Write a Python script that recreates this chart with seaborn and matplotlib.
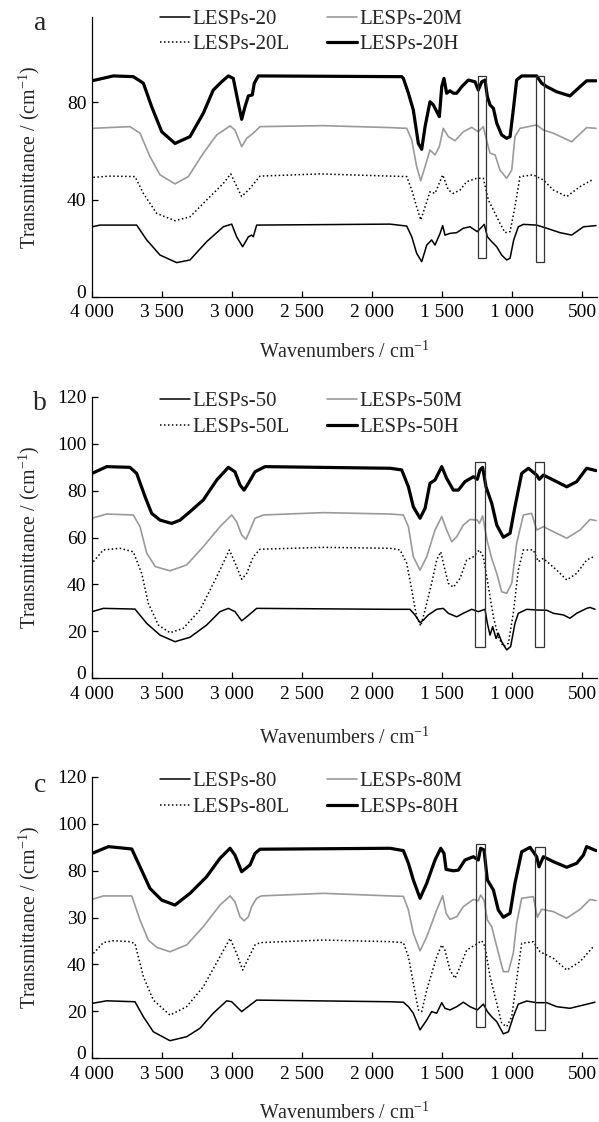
import matplotlib
matplotlib.use("Agg")
import matplotlib.pyplot as plt
import matplotlib.transforms as mtransforms
import seaborn as sns
import pandas as pd
from matplotlib.patches import Rectangle
from matplotlib.ticker import FuncFormatter, FixedLocator

# ---------------- data (wavenumber cm-1, transmittance) ----------------
a_20 = [(4000,28.8),(3943,29.5),(3681,29.5),(3609,23.4),(3514,17.2),(3395,14.1),(3300,15.2),(3181,22.7),(3062,28.8),(3002,29.9),(2967,24.7),(2924,20.6),(2883,24.7),(2860,25.4),(2848,24.7),(2824,29.5),(1871,29.9),(1752,29.1),(1716,24.7),(1681,17.9),(1645,14.5),(1609,21.3),(1574,23.4),(1550,21.3),(1514,26.1),(1495,29.3),(1479,25.4),(1443,26.1),(1395,26.4),(1348,28.2),(1300,28.8),(1248,26.8),(1198,29.8),(1176,24.7),(1145,22.7),(1109,20.6),(1074,17.2),(1038,15.2),(1014,15.9),(988,23.4),(955,28.8),(919,29.8),(824,29.5),(752,28.2),(657,26.4),(574,25.4),(490,28.8),(400,29.3)]
a_20L = [(3990,49.1),(3871,49.6),(3693,49.4),(3633,42.5),(3538,34.3),(3407,31.3),(3300,32.9),(3181,39.8),(3062,46.6),(3009,50.5),(2931,41.2),(2871,44.6),(2800,49.6),(2371,50.5),(1871,49.6),(1752,49.4),(1716,43.9),(1681,37.0),(1652,31.6),(1621,37.0),(1586,43.2),(1550,42.5),(1495,50.1),(1455,43.9),(1419,42.5),(1371,43.9),(1324,47.3),(1252,48.7),(1205,48.7),(1169,39.8),(1133,35.7),(1086,30.2),(1050,26.4),(1014,26.8),(979,37.0),(943,49.4),(848,50.1),(776,48.0),(705,43.9),(609,41.2),(514,45.3),(419,48.3)]
a_20M = [(4000,69.2),(3729,69.9),(3657,67.2),(3586,57.6),(3514,50.1),(3407,46.4),(3312,49.4),(3205,59.0),(3109,66.5),(3014,70.2),(2979,68.5),(2931,61.7),(2895,65.1),(2848,67.2),(2800,69.9),(2348,70.3),(1871,69.5),(1752,69.2),(1716,64.4),(1681,53.5),(1652,47.7),(1621,53.5),(1586,60.3),(1550,58.3),(1519,61.7),(1491,69.2),(1455,65.8),(1407,64.1),(1348,67.8),(1288,69.6),(1241,67.8),(1205,69.9),(1176,63.0),(1157,59.0),(1121,58.3),(1086,52.1),(1038,48.7),(1002,52.1),(979,65.8),(943,69.2),(824,70.6),(776,68.5),(705,67.2),(574,63.7),(467,69.5),(400,69.2)]
a_20H = [(4000,88.7),(3848,90.7),(3705,90.4),(3633,87.7),(3574,78.1),(3502,67.8),(3407,63.0),(3300,65.8),(3205,75.4),(3134,84.9),(3074,88.3),(3026,90.7),(2991,89.7),(2955,79.5),(2931,72.9),(2907,78.1),(2883,82.5),(2855,82.9),(2841,87.7),(2812,90.7),(1788,90.4),(1776,89.7),(1740,83.6),(1705,76.7),(1669,63.0),(1645,60.6),(1621,69.9),(1586,80.1),(1562,78.8),(1519,74.0),(1502,86.3),(1486,89.7),(1467,83.6),(1443,84.6),(1419,83.6),(1395,83.6),(1359,86.3),(1312,89.0),(1264,88.3),(1241,84.9),(1216,88.3),(1193,89.0),(1176,82.2),(1157,78.8),(1133,77.4),(1109,71.3),(1074,66.5),(1038,65.1),(1014,65.8),(991,76.7),(967,89.0),(931,90.7),(824,90.7),(788,87.7),(752,86.3),(681,84.2),(586,82.5),(514,86.3),(467,88.7),(400,88.7)]

b_50 = [(4000,28.4),(3919,29.8),(3693,29.5),(3609,23.4),(3514,18.4),(3407,15.6),(3300,17.5),(3181,22.7),(3086,28.4),(3026,29.8),(2979,28.4),(2931,24.5),(2895,26.2),(2824,29.8),(1871,29.4),(1729,29.4),(1693,27.0),(1657,23.7),(1633,24.8),(1598,27.0),(1538,29.4),(1491,29.8),(1455,27.7),(1395,26.2),(1348,27.7),(1288,29.4),(1241,28.4),(1193,29.4),(1176,23.4),(1157,18.4),(1138,22.0),(1114,17.0),(1098,19.2),(1074,15.6),(1038,12.1),(1010,13.5),(979,23.4),(955,27.7),(895,29.4),(824,29.1),(752,29.0),(705,27.7),(633,27.0),(586,25.6),(538,27.7),(467,29.8),(443,30.2),(407,29.4)]
b_50L = [(3990,49.7),(3919,54.7),(3800,55.4),(3705,53.9),(3645,44.7),(3598,32.0),(3526,22.7),(3443,19.4),(3348,21.3),(3229,29.1),(3109,43.3),(3019,54.7),(2967,47.6),(2931,42.2),(2895,44.7),(2848,51.8),(2800,55.0),(2348,55.8),(1871,55.4),(1800,54.7),(1752,49.0),(1716,37.6),(1681,26.2),(1652,22.3),(1621,29.1),(1574,40.5),(1538,50.4),(1509,53.9),(1479,46.1),(1455,40.5),(1419,38.8),(1371,42.6),(1324,50.4),(1276,51.8),(1233,54.7),(1205,51.8),(1181,43.3),(1157,34.8),(1133,26.2),(1098,17.7),(1062,13.5),(1026,14.9),(991,27.7),(955,46.1),(919,54.7),(848,54.7),(812,49.7),(776,51.1),(681,46.1),(609,41.9),(538,44.7),(467,50.4),(407,52.1)]
b_50M = [(4000,68.2),(3895,70.0),(3705,69.6),(3657,64.6),(3609,53.3),(3548,47.6),(3443,45.8),(3324,48.3),(3205,56.1),(3086,64.6),(3002,69.6),(2967,66.7),(2931,61.1),(2900,59.2),(2871,63.2),(2836,68.2),(2776,69.6),(2348,70.6),(1871,70.0),(1776,69.6),(1740,64.6),(1705,51.8),(1657,46.1),(1609,51.8),(1550,63.2),(1502,68.9),(1467,63.2),(1431,58.2),(1395,60.3),(1348,65.3),(1300,67.7),(1248,67.4),(1233,66.0),(1210,69.2),(1176,58.2),(1145,51.1),(1109,44.7),(1074,36.9),(1038,36.2),(1002,40.5),(967,57.5),(919,69.6),(860,70.3),(824,63.2),(776,64.6),(705,62.5),(609,59.7),(514,63.2),(443,67.7),(400,67.2)]
b_50H = [(4000,87.3),(3895,90.2),(3729,89.9),(3681,87.3),(3621,77.4),(3574,70.3),(3514,67.4),(3431,66.0),(3371,67.4),(3300,71.0),(3205,76.0),(3109,84.5),(3026,89.9),(2979,88.0),(2943,82.4),(2914,80.2),(2883,83.1),(2836,88.0),(2764,90.2),(1871,89.5),(1788,88.8),(1740,81.6),(1705,73.1),(1657,68.2),(1621,72.4),(1586,83.1),(1550,84.5),(1502,90.2),(1467,85.2),(1419,80.2),(1383,80.2),(1336,83.8),(1276,85.9),(1248,84.8),(1229,88.8),(1210,89.9),(1186,81.6),(1145,74.6),(1109,65.3),(1062,60.1),(1014,61.8),(979,73.1),(931,87.3),(883,89.5),(824,86.6),(805,84.8),(776,86.6),(705,84.5),(609,81.6),(538,83.8),(467,89.5),(400,88.5)]

c_80 = [(4000,23.4),(3895,24.5),(3693,24.1),(3633,17.7),(3562,11.3),(3443,7.5),(3324,9.2),(3229,12.8),(3134,19.2),(3038,24.5),(3002,24.1),(2931,19.9),(2824,24.8),(1871,24.1),(1776,23.9),(1740,22.0),(1705,19.2),(1657,12.1),(1609,16.3),(1574,19.9),(1538,19.2),(1502,23.7),(1479,21.3),(1443,20.6),(1395,22.0),(1348,23.9),(1300,22.0),(1248,20.6),(1205,23.1),(1176,19.9),(1145,17.7),(1109,15.6),(1062,10.4),(1026,11.3),(991,17.7),(955,23.1),(895,24.4),(824,23.7),(752,23.7),(681,22.0),(586,21.3),(490,22.7),(407,23.9)]
c_80L = [(3990,44.7),(3919,49.3),(3848,50.1),(3729,49.7),(3693,48.9),(3633,34.8),(3562,24.8),(3443,18.4),(3324,22.0),(3205,30.5),(3086,43.3),(3014,51.1),(2967,44.7),(2924,37.6),(2883,42.6),(2836,48.3),(2800,49.3),(2348,50.4),(1871,49.7),(1776,49.3),(1740,43.3),(1705,32.0),(1669,20.6),(1645,19.9),(1609,29.1),(1538,43.3),(1502,48.3),(1479,46.1),(1443,37.6),(1407,34.1),(1371,39.0),(1324,46.1),(1264,48.3),(1216,50.1),(1193,47.6),(1157,34.8),(1109,23.4),(1074,14.9),(1038,13.5),(1002,17.7),(967,33.4),(931,49.0),(848,49.7),(800,45.4),(705,42.6),(609,37.6),(514,41.2),(419,47.6)]
c_80M = [(4000,67.7),(3919,69.2),(3716,69.2),(3657,58.9),(3598,50.4),(3538,47.3),(3443,45.4),(3324,48.3),(3205,56.1),(3086,65.3),(3014,69.2),(2979,66.7),(2943,60.3),(2914,58.6),(2883,60.3),(2860,64.6),(2824,68.2),(2790,69.2),(2348,70.3),(1871,69.2),(1776,69.0),(1740,63.2),(1705,53.3),(1657,45.8),(1609,51.8),(1538,63.2),(1495,69.3),(1471,61.8),(1443,59.2),(1395,60.3),(1348,64.6),(1276,67.7),(1241,67.1),(1224,69.6),(1200,67.4),(1176,58.9),(1145,56.1),(1109,47.6),(1062,36.9),(1026,36.9),(991,44.7),(967,57.5),(931,68.2),(848,68.9),(819,60.1),(788,63.5),(705,62.5),(609,59.7),(514,63.5),(443,67.7),(400,67.2)]
c_80H = [(4000,87.3),(3883,90.2),(3716,89.2),(3657,81.6),(3586,72.4),(3502,67.4),(3407,65.3),(3300,70.3),(3181,77.4),(3086,85.2),(3014,89.5),(2979,86.6),(2931,79.5),(2871,82.4),(2836,87.3),(2800,89.1),(1871,89.5),(1776,88.5),(1740,83.1),(1705,76.0),(1657,68.2),(1609,74.6),(1550,84.5),(1509,89.5),(1486,87.3),(1471,80.5),(1419,79.9),(1383,80.2),(1336,84.5),(1276,85.9),(1241,84.5),(1224,89.5),(1200,88.8),(1176,76.0),(1133,71.7),(1098,63.2),(1062,60.1),(1014,61.8),(979,74.6),(931,88.0),(871,89.9),(824,85.9),(807,81.6),(776,85.9),(705,83.8),(609,81.4),(538,83.1),(490,86.6),(467,90.2),(400,88.5)]

# highlighted wavenumber windows: (wn_low, wn_high, T_low, T_high)
a_boxes = [(1185, 1240, 15.9, 90.6), (769, 826, 14.5, 90.6)]
b_boxes = [(1191, 1264, 13.2, 92.0), (769, 838, 13.2, 92.0)]
c_boxes = [(1193, 1259, 13.2, 91.4), (766, 833, 12.0, 90.2)]

x_ticks = [4000, 3500, 3000, 2500, 2000, 1500, 1000, 500]
a_yticks = [0, 40, 80]
a_yticklabels = ["0", "40", "80"]
bc_yticks = [0, 20, 40, 60, 80, 100, 120]
b_yticklabels = ["0", "20", "40", "60", "80", "100", "120"]
c_yticklabels = ["0", "20", "40", "30", "80", "100", "120"]

panels = [
    dict(letter="a", series=[("LESPs-20", a_20), ("LESPs-20L", a_20L), ("LESPs-20M", a_20M), ("LESPs-20H", a_20H)],
         boxes=a_boxes, yticks=a_yticks, ylabels=a_yticklabels, ylim=(0, 115)),
    dict(letter="b", series=[("LESPs-50", b_50), ("LESPs-50L", b_50L), ("LESPs-50M", b_50M), ("LESPs-50H", b_50H)],
         boxes=b_boxes, yticks=bc_yticks, ylabels=b_yticklabels, ylim=(0, 120)),
    dict(letter="c", series=[("LESPs-80", c_80), ("LESPs-80L", c_80L), ("LESPs-80M", c_80M), ("LESPs-80H", c_80H)],
         boxes=c_boxes, yticks=bc_yticks, ylabels=c_yticklabels, ylim=(0, 120)),
]

# ---------------- style ----------------
sns.set_theme(style="ticks")
plt.rcParams["font.family"] = ["Liberation Serif", "DejaVu Serif"]
plt.rcParams["mathtext.fontset"] = "custom"
plt.rcParams["mathtext.rm"] = "Liberation Serif"
FS_TICK = 14
FS_LAB = 14.3
FS_LEG = 15

styles = [dict(color="black", lw=1.1, ls="-"),
          dict(color="black", lw=1.1, ls=(0, (1, 1.6))),
          dict(color="#9a9a9a", lw=1.2, ls="-"),
          dict(color="black", lw=2.3, ls="-")]

fig = plt.figure(figsize=(5.99, 11.22), dpi=100)
W, H = 599, 1122
ax_left, ax_right = 92, 597
ax_tb = [(16.7, 297), (396.7, 678.3), (776.7, 1058.3)]
xlabel_y = [-0.196, -0.213, -0.192]
legend_top = [1.026, 1.017, 1.017]
letter_y = [23, 403, 785]

fmt = FuncFormatter(lambda v, p: f"{int(v):,}".replace(",", " "))
zero_shift = mtransforms.ScaledTranslation(0, 4 / 72, fig.dpi_scale_trans)

for i, pnl in enumerate(panels):
    top, bot = ax_tb[i]
    ax = fig.add_axes([ax_left / W, 1 - bot / H, (ax_right - ax_left) / W, (bot - top) / H])
    for (name, pts), st in zip(pnl["series"], styles):
        df = pd.DataFrame(pts, columns=["wn", "T"])
        sns.lineplot(data=df, x="wn", y="T", ax=ax, estimator=None, sort=False,
                     color=st["color"], linewidth=st["lw"], linestyle=st["ls"], label=name)
    for (x0, x1, y0, y1) in pnl["boxes"]:
        ax.add_patch(Rectangle((x0, y0), x1 - x0, y1 - y0, fill=False, edgecolor="#333333", linewidth=0.9, zorder=5))
    ax.set_xlim(4000, 393)
    ax.set_ylim(*pnl["ylim"])
    ax.xaxis.set_major_locator(FixedLocator(x_ticks))
    ax.xaxis.set_major_formatter(fmt)
    ax.set_yticks(pnl["yticks"])
    ax.set_yticklabels(pnl["ylabels"])
    sns.despine(ax=ax)
    for s in ["left", "bottom"]:
        ax.spines[s].set_linewidth(0.9)
        ax.spines[s].set_color("black")
    ax.tick_params(direction="in", length=4, width=0.9, labelsize=FS_TICK, colors="black")
    ax.tick_params(axis="x", pad=5.2)
    ax.tick_params(axis="y", pad=4)
    # lift the "0" label slightly so it clears the x tick labels, as in the original
    lab0 = ax.yaxis.get_major_ticks()[0].label1
    lab0.set_transform(lab0.get_transform() + zero_shift)
    ax.set_xlabel("Wavenumbers / cm$^{\\mathregular{-1}}$", fontsize=FS_LAB, va="center")
    ax.xaxis.set_label_coords(0.5, xlabel_y[i])
    ax.set_ylabel("Transmittance / (cm$^{\\mathregular{-1}}$)", fontsize=FS_LAB)
    ax.yaxis.set_label_coords(-0.1, 0.5)
    ax.legend(ncol=2, loc="upper left", bbox_to_anchor=(0.135, legend_top[i]), frameon=False,
              fontsize=FS_LEG, handlelength=1.45, handletextpad=0.1, columnspacing=1.8,
              labelspacing=0.28, borderpad=0, borderaxespad=0)
    fig.text(40 / W, 1 - letter_y[i] / H, pnl["letter"], fontsize=20, ha="center", va="center")

fig.savefig("out.png", dpi=100)
